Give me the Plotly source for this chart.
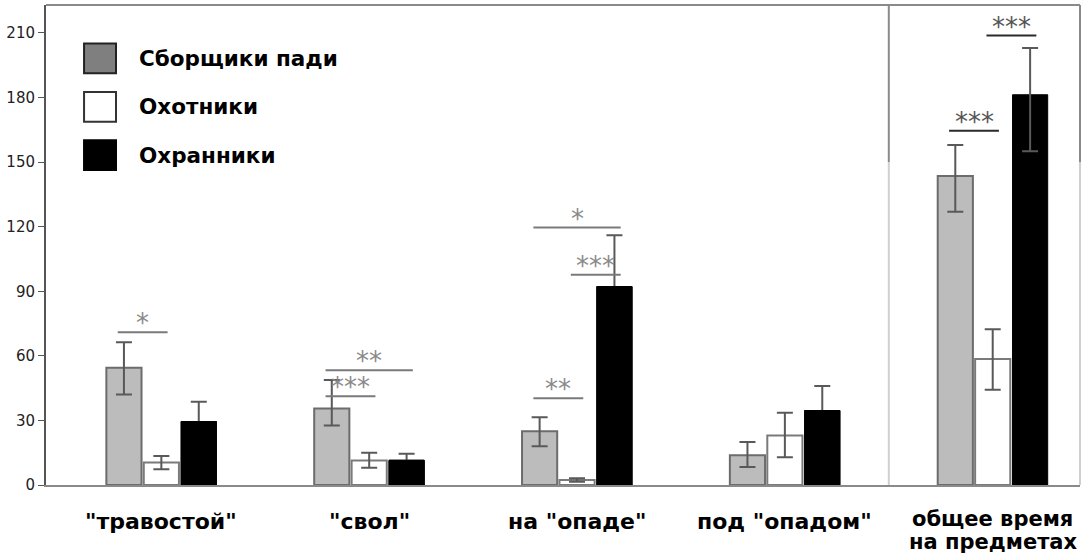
import plotly.graph_objects as go

# ---------------- data ----------------
categories = ['"травостой"', '"свол"', 'на "опаде"', 'под "опадом"', 'общее время<br>на предметах']
series_names = ["Сборщики пади", "Охотники", "Охранники"]

gatherers = [54.5, 35.5, 25.0, 13.8, 143.5]
gatherers_err_plus = [11.8, 13.3, 6.5, 6.2, 14.5]
gatherers_err_minus = [12.5, 7.8, 7.0, 5.4, 16.5]

hunters = [10.5, 11.4, 2.3, 23.0, 58.5]
hunters_err_plus = [3.0, 3.6, 0.8, 10.6, 13.9]
hunters_err_minus = [3.2, 3.4, 0.8, 10.1, 14.3]

guards = [29.5, 11.5, 92.2, 34.6, 181.3]
guards_err_plus = [9.2, 3.0, 23.8, 11.4, 21.7]
guards_err_minus = [9.2, 3.0, 23.8, 11.4, 26.2]

y_ticks = [0, 30, 60, 90, 120, 150, 180, 210]

# significance brackets: (group index, from bar, to bar, level, label)
sig_group = [0, 1, 1, 2, 2, 2, 4, 4]
sig_from = [0, 0, 0, 0, 1, 0, 0, 1]
sig_to = [1, 2, 1, 1, 2, 2, 1, 2]
sig_level = [71, 53.3, 41.2, 40.3, 97.7, 119.6, 164.6, 208.8]
sig_label = ["*", "**", "***", "**", "***", "*", "***", "***"]

# ---------------- style ----------------
GRAY_FILL = "#bcbcbc"
GRAY_EDGE = "#6c6c6c"
WHITE_EDGE = "#7a7a7a"
ERR_COLOR = "#595959"
BAR_SLOT = 0.18  # category fraction per bar (1 - bargap) / 3

fig = go.Figure()

fig.add_trace(go.Bar(
    x=categories, y=gatherers, name=series_names[0],
    marker=dict(color=GRAY_FILL, line=dict(color=GRAY_EDGE, width=2)),
    error_y=dict(type="data", symmetric=False, array=gatherers_err_plus,
                 arrayminus=gatherers_err_minus, color=ERR_COLOR, thickness=2, width=8),
    offsetgroup="g",
))
fig.add_trace(go.Bar(
    x=categories, y=hunters, name=series_names[1],
    marker=dict(color="white", line=dict(color=WHITE_EDGE, width=2)),
    error_y=dict(type="data", symmetric=False, array=hunters_err_plus,
                 arrayminus=hunters_err_minus, color=ERR_COLOR, thickness=2, width=8),
    offsetgroup="h",
))
fig.add_trace(go.Bar(
    x=categories, y=guards, name=series_names[2],
    marker=dict(color="black", line=dict(color="black", width=1)),
    error_y=dict(type="data", symmetric=False, array=guards_err_plus,
                 arrayminus=guards_err_minus, color=ERR_COLOR, thickness=2, width=8),
    offsetgroup="k",
))
# black cover hides the lower whiskers inside the black bars (except last group)
fig.add_trace(go.Bar(
    x=categories, y=[v if i < len(guards) - 1 else None for i, v in enumerate(guards)],
    name=series_names[2], showlegend=False, hoverinfo="skip",
    marker=dict(color="black", line=dict(color="black", width=1)),
    offsetgroup="k",
))

# significance brackets
for g, a, b, lvl, lab in zip(sig_group, sig_from, sig_to, sig_level, sig_label):
    dark = g == len(categories) - 1
    col = "#2a2a2a" if dark else "#7a7a7a"
    x0 = g + (a - 1) * BAR_SLOT - 0.03
    x1 = g + (b - 1) * BAR_SLOT + 0.03
    fig.add_shape(type="line", xref="x", yref="y", x0=x0, x1=x1, y0=lvl, y1=lvl,
                  line=dict(color=col, width=2))
    fig.add_annotation(x=(x0 + x1) / 2, y=lvl, xref="x", yref="y", text=lab,
                       showarrow=False, yanchor="bottom", yshift=-8,
                       font=dict(family="DejaVu Sans", size=26,
                                 color="#555555" if dark else "#8a8a8a"))

# category labels (each line placed under its category, tighter line spacing)
for i, cat in enumerate(categories):
    lines = cat.split("<br>")
    top = -36 if len(lines) == 1 else -34
    for j, line in enumerate(lines):
        fig.add_annotation(x=i, xref="x", y=0, yref="paper", text="<b>%s</b>" % line,
                           showarrow=False, xanchor="center", yanchor="middle",
                           yshift=top - 23 * j,
                           font=dict(family="DejaVu Sans", size=22 if len(lines) == 1 else 21,
                                     color="black"))

# separator between panels and right border (darker upper part)
for xv in [len(categories) - 1.5, None]:
    if xv is None:
        xr, xx = "paper", 1
    else:
        xr, xx = "x", xv
    fig.add_shape(type="line", xref=xr, yref="y", x0=xx, x1=xx, y0=0, y1=150,
                  line=dict(color="#cfcfcf", width=2))
    fig.add_shape(type="line", xref=xr, yref="y", x0=xx, x1=xx, y0=150, y1=223,
                  line=dict(color="#8a8a8a", width=2))
# top border
fig.add_shape(type="line", xref="paper", yref="paper", x0=0, x1=1, y0=1, y1=1,
              line=dict(color="#8a8a8a", width=2))

# manual legend
legend_fill = ["#7f7f7f", "white", "black"]
legend_edge = ["#222222", "#333333", "black"]
for i, name in enumerate(series_names):
    yc = 0.889 - i * 0.101
    fig.add_shape(type="rect", xref="paper", yref="paper",
                  x0=0.0368, x1=0.0677, y0=yc - 0.031, y1=yc + 0.031,
                  fillcolor=legend_fill[i], line=dict(color=legend_edge[i], width=2))
    fig.add_annotation(xref="paper", yref="paper", x=0.088, y=yc, text="<b>%s</b>" % name,
                       showarrow=False, xanchor="left", yanchor="middle",
                       font=dict(family="DejaVu Sans", size=21.5, color="black"))

fig.update_layout(
    width=1085, height=554,
    margin=dict(l=46, r=5, t=5, b=69, autoexpand=False),
    paper_bgcolor="white", plot_bgcolor="white",
    barmode="group", bargap=0.46, bargroupgap=0.06,
    showlegend=False,
    font=dict(family="DejaVu Sans", color="black"),
)
fig.update_xaxes(
    type="category", range=[-0.555, 4.42], automargin=False,
    categoryorder="array", categoryarray=categories,
    showline=True, linecolor="#8a8a8a", linewidth=2,
    ticks="", showgrid=False, zeroline=False, showticklabels=False,
)
fig.update_yaxes(
    range=[0, 223], tickvals=y_ticks, automargin=False,
    showline=True, linecolor="#555555", linewidth=2,
    ticks="outside", ticklen=6, tickcolor="#555555", tickwidth=1,
    showgrid=False, zeroline=False,
    tickfont=dict(family="DejaVu Sans", size=15, color="#222222"),
)

fig.write_html("out.html", config={"displayModeBar": False},
               post_script="document.body.style.margin='0';")
